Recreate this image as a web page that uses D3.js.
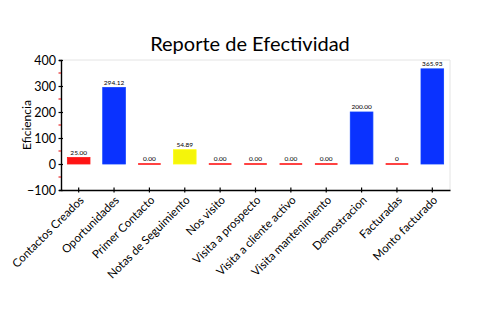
<!DOCTYPE html>
<html>
<head>
<meta charset="utf-8">
<script src="https://cdn.jsdelivr.net/npm/d3@7"></script>
<style>
  html, body { margin: 0; padding: 0; background: #fff; }
  svg { display: block; font-family: Lato, "DejaVu Sans Condensed", sans-serif; }
</style>
</head>
<body>
<svg id="chart" width="500" height="330"></svg>
<script>
// Effectiveness report data
const categories = [
  "Contactos Creados", "Oportunidades", "Primer Contacto", "Notas de Seguimiento",
  "Nos visito", "Visita a prospecto", "Visita a cliente activo", "Visita mantenimiento",
  "Demostracion", "Facturadas", "Monto facturado"
];
const values = [25, 294.12, 0, 54.89, 0, 0, 0, 0, 200, 0, 365.93];
const valueLabels = ["25.00", "294.12", "0.00", "54.89", "0.00", "0.00", "0.00", "0.00", "200.00", "0", "365.93"];
const barColors = ["#ff1414", "#0a32ff", "#ff1414", "#f5f50a", "#ff1414", "#ff1414", "#ff1414", "#ff1414", "#0a32ff", "#ff1414", "#0a32ff"];
const yTicks = [-100, 0, 100, 200, 300, 400];
const yMinorTicks = [-50, 50, 150, 250, 350];

const svg = d3.select("#chart");
const margin = { left: 61, right: 50, top: 60, bottom: 140 };
const W = 500, H = 330;
const plotW = W - margin.left - margin.right;
const plotH = H - margin.top - margin.bottom;

const x = d3.scaleBand().domain(categories).range([0, plotW]).paddingInner(0).paddingOuter(0);
const y = d3.scaleLinear().domain([-100, 400]).range([plotH, 0]);

const g = svg.append("g").attr("transform", `translate(${margin.left},${margin.top})`);

// plot frame (top and right edges)
g.append("path")
  .attr("d", `M0,0H${plotW}V${plotH}`)
  .attr("fill", "none").attr("stroke", "#e4e4e4").attr("stroke-width", 1);

// title
svg.append("text")
  .attr("x", 250).attr("y", 51)
  .attr("text-anchor", "middle")
  .attr("font-size", 20)
  .attr("fill", "#000")
  .text("Reporte de Efectividad");

// y axis title
svg.append("text")
  .attr("transform", `translate(31,${margin.top + y(150)}) rotate(-90)`)
  .attr("text-anchor", "middle")
  .attr("font-size", 12)
  .text("Eficiencia");

// bars
const bw = x.bandwidth() * 0.64;
g.selectAll("rect.bar").data(values).join("rect")
  .attr("class", "bar")
  .attr("x", (d, i) => x(categories[i]) + (x.bandwidth() - bw) / 2)
  .attr("width", bw)
  .attr("y", d => d > 0 ? y(d) : y(0) - 0.8)
  .attr("height", d => d > 0 ? y(0) - y(d) : 1.6)
  .attr("fill", (d, i) => barColors[i])
  .attr("stroke", (d, i) => d > 0 ? d3.color(barColors[i]).brighter(0.6) : "none")
  .attr("stroke-width", 0.8);

// value labels
g.selectAll("text.val").data(values).join("text")
  .attr("class", "val")
  .attr("x", (d, i) => x(categories[i]) + x.bandwidth() / 2)
  .attr("y", d => y(Math.max(d, 0)) - 3)
  .attr("text-anchor", "middle")
  .attr("font-size", 6.5)
  .text((d, i) => valueLabels[i]);

// y axis
const yAxis = d3.axisLeft(y).tickValues(yTicks).tickSize(2).tickPadding(3).tickFormat(d3.format("d"));
const ya = g.append("g").call(yAxis);
ya.select(".domain").attr("stroke", "#000").attr("stroke-width", 1.4);
ya.selectAll(".tick line").attr("x2", 2).attr("x1", -2.5).attr("stroke-width", 1.2);
ya.selectAll(".tick text").attr("font-size", 12.5).attr("font-family", "Lato, sans-serif").attr("dy", "0.35em");

// minor red ticks
g.selectAll("line.minor").data(yMinorTicks).join("line")
  .attr("class", "minor")
  .attr("x1", -2.5).attr("x2", 0)
  .attr("y1", d => y(d)).attr("y2", d => y(d))
  .attr("stroke", "#e00000").attr("stroke-width", 1);

// x axis
const xAxis = d3.axisBottom(x).tickSize(3).tickSizeOuter(0);
const xa = g.append("g").attr("transform", `translate(0,${plotH})`).call(xAxis);
xa.select(".domain").attr("stroke", "#000").attr("stroke-width", 1.4);
xa.selectAll(".tick line").attr("y1", -2.5).attr("y2", 2.5).attr("stroke-width", 1.2);
xa.selectAll(".tick text")
  .attr("font-size", 11.5)
  .attr("font-family", "Lato, sans-serif")
  .attr("text-anchor", "end")
  .attr("dy", "0.35em")
  .attr("transform", "translate(3,8) rotate(-45)")
  .attr("y", 0).attr("x", 0);
</script>
</body>
</html>
